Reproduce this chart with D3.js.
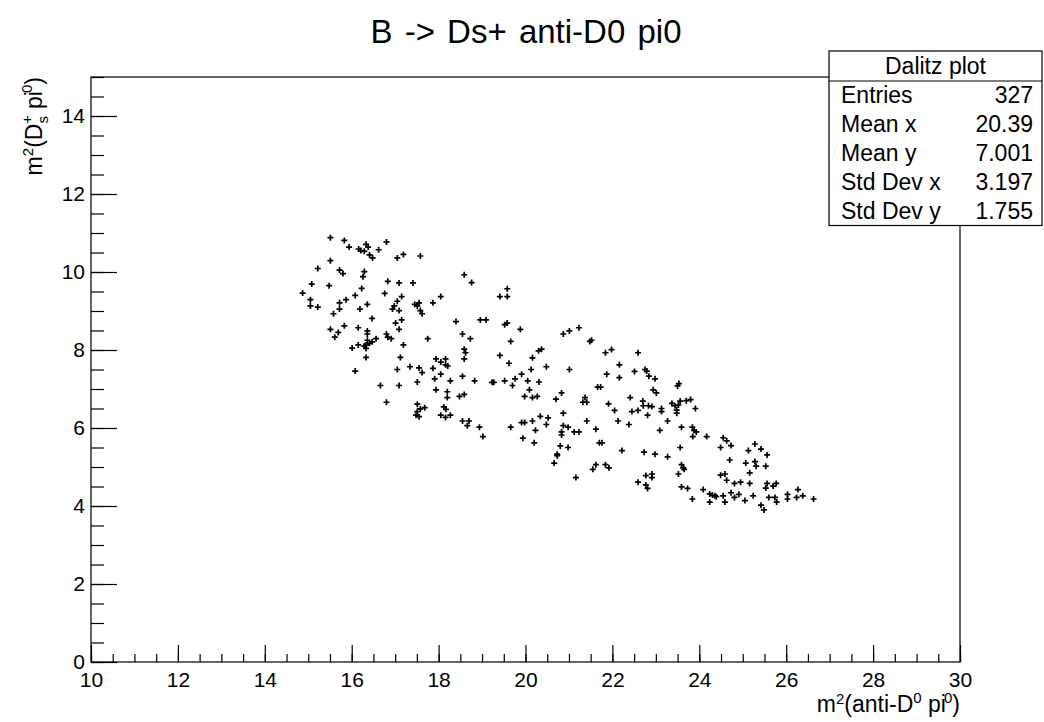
<!DOCTYPE html>
<html lang="en">
<head>
  <meta charset="UTF-8">
  <title>B -> Ds+ anti-D0 pi0</title>
  <script src="https://d3js.org/d3.v7.min.js"></script>
  <style>
    body {
      margin: 0;
      background: #fff;
    }
    svg {
      display: block;
      font-family: 'Liberation Sans', Arial, Helvetica, sans-serif;
    }
    .tick text {
      font-size: 21px;
      fill: #000;
    }
    .tick line {
      stroke: #000;
    }
  </style>
</head>
<body>
  <svg width="1044" height="722"></svg>

  <script>
    // m^2(anti-D0 pi0) values
    let xVals = [
      15.51, 15.83, 15.94, 16.16, 16.21, 16.33, 16.38, 16.29, 16.41, 16.48,
      16.62, 16.80, 17.05, 17.19, 17.58, 15.51, 15.22, 15.72, 15.80, 16.29,
      16.26, 15.08, 15.48, 14.87, 15.05, 15.05, 15.22, 16.23, 16.08, 15.87,
      15.72, 15.72, 15.58, 16.19, 16.36, 16.83, 17.09, 17.41, 16.76, 17.15,
      17.05, 16.98, 16.94, 17.09, 17.45, 17.51, 17.55, 17.58, 17.62, 16.47,
      17.01, 17.15, 17.09, 15.51, 15.69, 15.61, 15.83, 16.15, 16.36, 16.36,
      16.80, 16.83, 16.91, 16.56, 16.47, 16.41, 16.36, 16.33, 16.29, 16.33,
      16.15, 16.01, 17.19, 17.75, 16.33, 17.12, 16.08, 17.05, 17.34, 17.55,
      17.62, 17.51, 16.66, 17.09, 16.80, 17.51, 17.68, 17.58, 17.51, 17.48,
      17.55,
      18.59, 18.76, 18.05, 17.87, 19.41, 19.58, 19.58, 18.40, 18.96, 19.09,
      19.52, 19.58, 19.88, 18.55, 18.73, 19.66, 20.87, 18.59, 18.62, 18.59,
      19.41, 19.62, 17.94, 18.05, 18.16, 18.16, 18.21, 17.87, 17.91, 18.05,
      18.27, 18.55, 18.83, 19.23, 19.27, 19.52, 19.70, 19.76, 19.91, 20.05,
      20.13, 20.16, 20.30, 20.37, 20.48, 20.31, 20.09, 19.98, 20.16, 20.27,
      17.94, 18.20, 18.20, 18.48, 18.59, 18.12, 18.17, 18.05, 18.16, 18.27,
      18.55, 18.70, 18.66, 18.94, 19.02, 19.66, 19.91, 19.98, 20.16, 20.34,
      20.52, 20.48, 20.23, 19.94, 20.20, 20.83, 20.70, 20.87, 20.87, 20.83,
      20.83, 20.80, 20.73, 20.73, 20.66,
      21.01, 21.23, 21.48, 21.52, 21.84, 21.98, 22.59, 21.01, 22.16, 22.16,
      21.87, 22.51, 22.75, 22.79, 22.84, 22.98, 22.94, 23.01, 23.50, 23.53,
      21.66, 21.73, 22.41, 21.37, 21.32, 21.41, 21.91, 22.05, 22.45, 22.59,
      22.70, 22.71, 22.83, 22.91, 22.81, 23.13, 23.13, 23.37, 23.44, 23.52,
      23.56, 23.48, 23.48, 23.70, 23.80, 23.91, 20.98, 21.12, 21.23, 21.41,
      21.62, 21.70, 21.76, 22.13, 22.38, 23.09, 23.27, 23.59, 23.84, 23.88,
      23.93, 23.85, 22.22, 22.73, 22.98, 23.27, 23.56, 20.98, 21.16, 21.55,
      21.62, 21.84, 21.92, 22.59, 22.77, 22.91, 22.91, 22.77, 22.81, 23.52,
      23.59, 23.63, 23.65, 23.59, 23.73, 23.84,
      24.17, 24.55, 24.63, 24.73, 24.49, 24.70, 25.13, 25.28, 25.42, 25.56,
      25.07, 25.28, 25.31, 25.53, 25.16, 24.49, 24.59, 24.63, 24.81, 24.95,
      25.16, 25.56, 25.53, 25.70, 25.77, 24.09, 24.24, 24.30, 24.36, 24.39,
      24.24, 24.55, 24.59, 24.73, 24.81, 24.91, 25.05, 25.24, 25.42, 25.49,
      25.60, 25.74, 25.78, 26.03, 26.03, 26.24, 26.27, 26.38, 26.63
    ];

    // m^2(Ds+ pi0) values, same order as xVals
    let yVals = [
      10.88, 10.81, 10.64, 10.59, 10.55, 10.71, 10.64, 10.53, 10.44, 10.36,
      10.57, 10.77, 10.36, 10.45, 10.41, 10.29, 10.09, 10.05, 9.96, 10.01,
      9.88, 9.69, 9.65, 9.46, 9.29, 9.13, 9.10, 9.58, 9.40, 9.29,
      9.21, 9.05, 8.93, 9.05, 9.17, 9.76, 9.72, 9.72, 9.45, 9.37,
      9.25, 9.13, 9.05, 9.01, 9.17, 9.13, 9.21, 9.01, 8.93, 8.81,
      8.69, 8.77, 8.53, 8.53, 8.45, 8.33, 8.62, 8.57, 8.49, 8.41,
      8.41, 8.33, 8.29, 8.29, 8.21, 8.17, 8.25, 8.13, 8.10, 8.04,
      8.13, 8.05, 8.13, 8.29, 7.81, 7.81, 7.46, 7.50, 7.57, 7.54,
      7.42, 7.18, 7.09, 7.09, 6.66, 6.61, 6.52, 6.49, 6.42, 6.33,
      6.29,
      9.93, 9.73, 9.37, 9.21, 9.37, 9.37, 9.57, 8.73, 8.77, 8.77,
      8.65, 8.69, 8.53, 8.41, 8.29, 8.22, 8.41, 8.02, 7.93, 7.77,
      7.86, 7.66, 7.77, 7.69, 7.77, 7.62, 7.59, 7.53, 7.26, 7.38,
      7.21, 7.33, 7.21, 7.17, 7.17, 7.21, 7.09, 7.26, 7.38, 7.21,
      7.50, 7.80, 7.98, 8.02, 7.57, 7.18, 6.98, 6.81, 6.78, 6.81,
      6.98, 6.93, 6.78, 6.81, 6.86, 6.54, 6.48, 6.33, 6.27, 6.33,
      6.18, 6.18, 6.06, 6.02, 5.78, 6.02, 6.14, 6.14, 6.18, 6.30,
      6.26, 6.09, 5.94, 5.74, 5.62, 6.90, 6.74, 6.38, 6.06, 5.90,
      5.82, 5.54, 5.33, 5.29, 5.10,
      8.49, 8.57, 8.22, 8.25, 7.93, 8.01, 7.93, 7.50, 7.62, 7.29,
      7.38, 7.45, 7.50, 7.46, 7.33, 7.26, 6.98, 6.90, 7.08, 7.14,
      7.05, 7.05, 6.78, 6.78, 6.66, 6.66, 6.62, 6.45, 6.42, 6.45,
      6.69, 6.57, 6.57, 6.55, 6.33, 6.50, 6.42, 6.63, 6.57, 6.59,
      6.69, 6.46, 6.38, 6.70, 6.73, 6.50, 6.02, 5.90, 5.90, 6.18,
      5.97, 5.62, 5.62, 6.18, 6.09, 5.94, 6.18, 6.02, 6.02, 5.94,
      5.90, 5.78, 5.42, 5.38, 5.33, 5.26, 5.50, 5.50, 4.73, 4.94,
      5.06, 5.06, 4.98, 4.61, 4.78, 4.82, 4.73, 4.54, 4.45, 4.82,
      5.06, 4.98, 4.94, 4.49, 4.45, 4.18,
      5.78, 5.75, 5.67, 5.55, 5.50, 5.18, 5.42, 5.59, 5.46, 5.31,
      5.10, 5.14, 5.02, 5.02, 4.85, 4.79, 4.82, 4.66, 4.58, 4.61,
      4.58, 4.58, 4.46, 4.51, 4.58, 4.42, 4.31, 4.28, 4.26, 4.24,
      4.10, 4.26, 4.10, 4.34, 4.22, 4.30, 4.14, 4.26, 4.02, 3.90,
      4.22, 4.22, 4.10, 4.30, 4.18, 4.22, 4.42, 4.26, 4.18
    ];

    let xMajor = d3.range(10, 30.001, 2);
    let xMinor = d3.range(10, 30.001, 0.5);
    let yMajor = d3.range(0, 14.001, 2);
    let yMinor = d3.range(0, 15.001, 0.5);

    let statsTitle = 'Dalitz plot';
    let statsNames = ['Entries', 'Mean x', 'Mean y', 'Std Dev x', 'Std Dev y'];
    let statsValues = ['327', '20.39', '7.001', '3.197', '1.755'];

    let width = 1044, height = 722;
    let frame = { left: 91, right: 960, top: 77, bottom: 662 };

    let svg = d3.select('svg');

    svg.append('rect')
      .attr('width', width)
      .attr('height', height)
      .attr('fill', '#fff');

    let x = d3.scaleLinear().domain([10, 30]).range([frame.left, frame.right]);
    let y = d3.scaleLinear().domain([0, 15]).range([frame.bottom, frame.top]);

    // ticks point into the frame, like ROOT
    svg.append('g')
      .attr('transform', `translate(0,${frame.bottom})`)
      .call(d3.axisBottom(x).tickValues(xMinor).tickSize(-8).tickFormat(''))
      .call(g => g.select('.domain').remove());

    svg.append('g')
      .attr('transform', `translate(0,${frame.bottom})`)
      .call(d3.axisBottom(x).tickValues(xMajor).tickSize(-17).tickPadding(10).tickFormat(d3.format('d')))
      .call(g => g.select('.domain').remove());

    svg.append('g')
      .attr('transform', `translate(${frame.left},0)`)
      .call(d3.axisLeft(y).tickValues(yMinor).tickSize(-13).tickFormat(''))
      .call(g => g.select('.domain').remove());

    svg.append('g')
      .attr('transform', `translate(${frame.left},0)`)
      .call(d3.axisLeft(y).tickValues(yMajor).tickSize(-26).tickPadding(6).tickFormat(d3.format('d')))
      .call(g => g.select('.domain').remove());

    svg.selectAll('.tick line').attr('stroke-width', 1.2);

    svg.append('rect')
      .attr('x', frame.left)
      .attr('y', frame.top)
      .attr('width', frame.right - frame.left)
      .attr('height', frame.bottom - frame.top)
      .attr('fill', 'none')
      .attr('stroke', '#000')
      .attr('stroke-width', 1.2);

    // markers: small crosses
    let pts = xVals.map((d, i) => ({ x: d, y: yVals[i] }));
    svg.append('g')
      .selectAll('path')
      .data(pts)
      .enter().append('path')
      .attr('transform', d => `translate(${x(d.x)},${y(d.y)})`)
      .attr('d', 'M-3,0H3M0,-3V3')
      .attr('stroke', '#000')
      .attr('stroke-width', 1.7);

    // title
    svg.append('text')
      .attr('x', 526)
      .attr('y', 43)
      .attr('text-anchor', 'middle')
      .attr('font-size', 33)
      .attr('word-spacing', 3)
      .text('B -> Ds+ anti-D0 pi0');

    // x axis title
    let xt = svg.append('text')
      .attr('x', frame.right)
      .attr('y', 712)
      .attr('text-anchor', 'end')
      .attr('font-size', 23);
    xt.append('tspan').text('m');
    xt.append('tspan').attr('font-size', 15).attr('dy', -8).text('2');
    xt.append('tspan').attr('dy', 8).text('(anti-D');
    xt.append('tspan').attr('font-size', 15).attr('dy', -9).text('0');
    xt.append('tspan').attr('dy', 9).text(' pi');
    xt.append('tspan').attr('font-size', 15).attr('dy', -9).attr('dx', -2).text('0');
    xt.append('tspan').attr('dy', 9).text(')');

    // y axis title
    let yt = svg.append('text')
      .attr('transform', `translate(42,${frame.top}) rotate(-90)`)
      .attr('text-anchor', 'end')
      .attr('font-size', 23);
    yt.append('tspan').text('m');
    yt.append('tspan').attr('font-size', 15).attr('dy', -9).text('2');
    yt.append('tspan').attr('dy', 9).text('(D');
    yt.append('tspan').attr('font-size', 15).attr('dy', 6).text('s');
    yt.append('tspan').attr('font-size', 15).attr('dy', -16).attr('dx', -8).text('+');
    yt.append('tspan').attr('dy', 10).text(' pi');
    yt.append('tspan').attr('font-size', 15).attr('dy', -10).attr('dx', -2).text('0');
    yt.append('tspan').attr('dy', 10).text(')');

    // stats box
    let box = { x: 829, y: 51, w: 213, head: 30, row: 28.9 };
    let stats = svg.append('g');
    stats.append('rect')
      .attr('x', box.x)
      .attr('y', box.y)
      .attr('width', box.w)
      .attr('height', box.head + box.row * statsNames.length)
      .attr('fill', '#fff')
      .attr('stroke', '#000')
      .attr('stroke-width', 1.2);
    stats.append('line')
      .attr('x1', box.x).attr('x2', box.x + box.w)
      .attr('y1', box.y + box.head).attr('y2', box.y + box.head)
      .attr('stroke', '#000')
      .attr('stroke-width', 1.2);
    stats.append('text')
      .attr('x', box.x + box.w / 2)
      .attr('y', box.y + box.head / 2 + 8)
      .attr('text-anchor', 'middle')
      .attr('font-size', 23)
      .text(statsTitle);
    statsNames.forEach((name, i) => {
      let cy = box.y + box.head + box.row * (i + 0.5) + 8;
      stats.append('text')
        .attr('x', box.x + 12)
        .attr('y', cy)
        .attr('font-size', 23)
        .text(name);
      stats.append('text')
        .attr('x', box.x + box.w - 9)
        .attr('y', cy)
        .attr('text-anchor', 'end')
        .attr('font-size', 23)
        .text(statsValues[i]);
    });
  </script>
</body>
</html>
